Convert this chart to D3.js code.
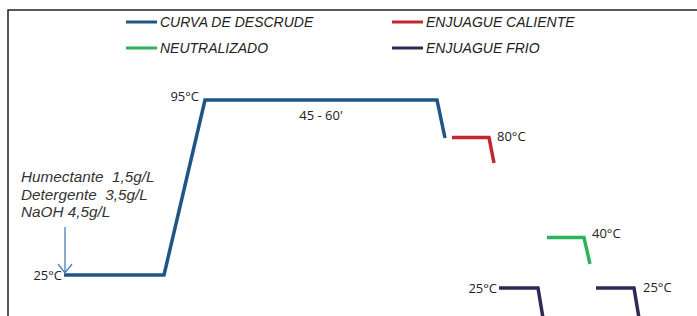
<!DOCTYPE html>
<html>
<head>
<meta charset="utf-8">
<script src="https://cdn.jsdelivr.net/npm/d3@7"></script>
<style>
  body { margin: 0; background: #fff; }
  svg { display: block; }
  .lbl { font-family: "Open Sans", sans-serif; font-size: 13px; fill: #222; }
  .leg { font-family: "Liberation Sans", Arial, sans-serif; font-style: italic; font-size: 14px; fill: #222; }
  .note { font-family: "Liberation Sans", Arial, sans-serif; font-style: italic; font-size: 15.3px; fill: #333; white-space: pre; }
</style>
</head>
<body>
<div id="chart"></div>
<script>
const svgWidth = 697
const svgHeight = 316

// series names (legend order) and colours
const seriesNames = ["CURVA DE DESCRUDE", "NEUTRALIZADO", "ENJUAGUE CALIENTE", "ENJUAGUE FRIO"]
const seriesColors = ["#1f5586", "#2db45a", "#c3262e", "#2f2a55"]

// process curves: time (arbitrary units) and temperature level (°C, as drawn)
const descrudeTime = [11.2, 31.2, 39.4, 85.8, 87.4]
const descrudeTemp = [25, 25, 95, 95, 79.8]
const calienteTime = [88.8, 96.2, 97.2]
const calienteTemp = [80, 80, 69.8]
const neutralTime = [107.8, 115.2, 116.4]
const neutralTemp = [40, 40, 29.4]
const frio1Time = [98.2, 106, 107]
const frio1Temp = [19.8, 19.8, 7.8]
const frio2Time = [117.6, 125.2, 126.2]
const frio2Temp = [19.8, 19.8, 7.8]

const tempText = ["25°C", "95°C", "80°C", "40°C", "25°C", "25°C"]
const durationText = "45 - 60'"
const noteLines = ["Humectante  1,5g/L", "Detergente  3,5g/L", "NaOH 4,5g/L"]

let svg = d3.select("#chart")
  .append("svg")
  .attr("width", svgWidth)
  .attr("height", svgHeight)

let x = d3.scaleLinear().domain([0, 140]).range([8, 708])
let y = d3.scaleLinear().domain([0, 100]).range([337.5, 87.5])

// frame (top + left)
svg.append("path")
  .attr("d", `M8,${svgHeight} L8,10 L${svgWidth},10`)
  .attr("fill", "none")
  .attr("stroke", "#222")
  .attr("stroke-width", 1.5)

let line = d3.line().x(d => x(d[0])).y(d => y(d[1]))
const zip = (a, b) => a.map((v, i) => [v, b[i]])

let curves = [
  { pts: zip(descrudeTime, descrudeTemp), color: seriesColors[0] },
  { pts: zip(calienteTime, calienteTemp), color: seriesColors[2] },
  { pts: zip(neutralTime, neutralTemp), color: seriesColors[1] },
  { pts: zip(frio1Time, frio1Temp), color: seriesColors[3] },
  { pts: zip(frio2Time, frio2Temp), color: seriesColors[3] }
]

svg.selectAll("path.curve")
  .data(curves)
  .enter()
  .append("path")
  .attr("class", "curve")
  .attr("d", d => line(d.pts))
  .attr("fill", "none")
  .attr("stroke", d => d.color)
  .attr("stroke-width", 3.5)
  .attr("stroke-linejoin", "miter")

// temperature labels, placed next to the curve points
let labelSpots = [
  { p: curves[0].pts[0], dx: -2, dy: 5, anchor: "end" },
  { p: curves[0].pts[2], dx: -6, dy: 1, anchor: "end" },
  { p: curves[1].pts[1], dx: 8, dy: 3, anchor: "start" },
  { p: curves[2].pts[1], dx: 8, dy: 0, anchor: "start" },
  { p: curves[3].pts[0], dx: -2, dy: 5, anchor: "end" },
  { p: curves[4].pts[1], dx: 9, dy: 4, anchor: "start" }
]

svg.selectAll("text.temp")
  .data(labelSpots)
  .enter()
  .append("text")
  .attr("class", "lbl temp")
  .attr("x", d => x(d.p[0]) + d.dx)
  .attr("y", d => y(d.p[1]) + d.dy)
  .attr("text-anchor", d => d.anchor)
  .text((d, i) => tempText[i])

// duration under the plateau
svg.append("text")
  .attr("class", "lbl")
  .attr("x", (x(descrudeTime[2]) + x(descrudeTime[3])) / 2)
  .attr("y", y(descrudeTemp[2]) + 20)
  .attr("text-anchor", "middle")
  .text(durationText)

// chemicals note + arrow
svg.append("g")
  .selectAll("text")
  .data(noteLines)
  .enter()
  .append("text")
  .attr("class", "note")
  .attr("x", 21)
  .attr("y", (d, i) => 182 + i * 17.5)
  .text(d => d)

let ax = x(descrudeTime[0]) + 1
let ay = y(descrudeTemp[0]) - 2
svg.append("path")
  .attr("d", `M${ax},227 L${ax},${ay} M${ax - 7},${ay - 9} L${ax},${ay} L${ax + 7},${ay - 9}`)
  .attr("fill", "none")
  .attr("stroke", "#4a7ebb")
  .attr("stroke-width", 1.3)

// legend: two columns, two rows
let legendPos = [[126, 22], [126, 48], [392, 22], [392, 48]]
let legend = svg.append("g")
  .selectAll("g")
  .data(seriesNames)
  .enter()
  .append("g")
  .attr("transform", (d, i) => `translate(${legendPos[i][0]}, ${legendPos[i][1]})`)

legend.append("line")
  .attr("x1", 0).attr("x2", 31)
  .attr("stroke", (d, i) => seriesColors[i])
  .attr("stroke-width", 3)

legend.append("text")
  .attr("class", "leg")
  .attr("x", 34)
  .attr("y", 5)
  .text(d => d)
</script>
</body>
</html>
